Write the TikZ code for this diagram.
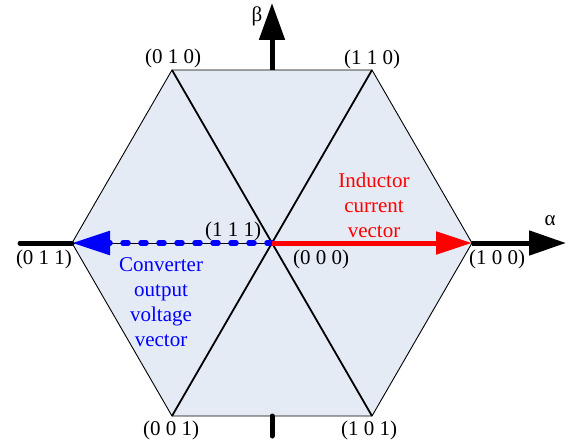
\documentclass[tikz,border=0pt]{standalone}
\usepackage{fontspec}
\setmainfont{Liberation Serif}
\usetikzlibrary{arrows.meta}
\definecolor{hexfill}{HTML}{E5EBF5}
\definecolor{curred}{HTML}{FF0000}
\definecolor{voltblue}{HTML}{0000FF}
\tikzset{
  axisline/.style={black, line width=5pt},
  vlabel/.style={inner sep=0pt},
  veclabel/.style={align=center, inner sep=0pt}
}
\begin{document}
\begin{tikzpicture}[x=1pt, y=-1pt, font=\fontsize{21}{25}\selectfont]
    \useasboundingbox (0,0) rectangle (584,444);
    % hexagon vertices
    \coordinate (o) at (272,243);
    \coordinate (v100) at (472,243);
    \coordinate (v110) at (372,70);
    \coordinate (v010) at (172,70);
    \coordinate (v011) at (72,243);
    \coordinate (v001) at (172,416);
    \coordinate (v101) at (372,416);
    % axis ends
    \coordinate (aL) at (20,243);
    \coordinate (aR) at (566,243);
    \coordinate (bT) at (272,3);
    \coordinate (bB) at (272,436);
    \coordinate (bTh) at (272,70);
    \coordinate (bBh) at (272,416);
    \filldraw[fill=hexfill, draw=black, line width=0.9pt]
      (v100) -- (v110) -- (v010) -- (v011) -- (v001) -- (v101) -- cycle;
    \draw[line width=1.8pt] (v010) -- (v101);
    \draw[line width=1.8pt] (v110) -- (v001);
    \draw[line width=1pt] (o) -- (v011);
    % vectors
    \draw[voltblue, line width=5.5pt, line cap=round, dash pattern=on 5pt off 13pt,
      -{Triangle[length=38pt, width=23pt]}] (o) -- (v011);
    \draw[curred, line width=5pt, -{Triangle[length=36pt, width=22pt]}] (o) -- (v100);
    % axes
    \draw[axisline, line cap=round] (aL) -- (v011);
    \draw[axisline, -{Triangle[length=37pt, width=24pt]}] (v100) -- (aR);
    \draw[axisline, -{Triangle[length=37pt, width=25pt]}] (bTh) -- (bT);
    \draw[axisline, line cap=round] (bBh) -- (bB);
    \node[vlabel] (alpha) at (550,221) {α};
    \node[vlabel] (beta) at (257,16) {β};
    % switching states
    \node[vlabel] (l010) at (173,58) {(0 1 0)};
    \node[vlabel] (l110) at (372,59) {(1 1 0)};
    \node[vlabel] (l011) at (44,259) {(0 1 1)};
    \node[vlabel] (l100) at (497,259) {(1 0 0)};
    \node[vlabel] (l001) at (171,430) {(0 0 1)};
    \node[vlabel] (l101) at (369,430) {(1 0 1)};
    \node[vlabel] (l111) at (233,231) {(1 1 1)};
    \node[vlabel] (l000) at (321,259) {(0 0 0)};
    \node[veclabel, text=curred] (ivec) at (374,205) {Inductor\\current\\vector};
    \node[veclabel, text=voltblue] (uvec) at (161,302) {Converter\\output\\voltage\\vector};
\end{tikzpicture}
\end{document}
